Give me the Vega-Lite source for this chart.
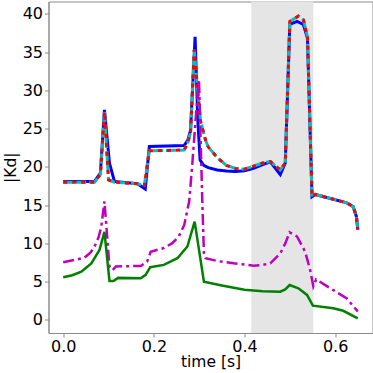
{
  "$schema": "https://vega.github.io/schema/vega-lite/v6.json",
  "width": 324,
  "height": 331.5,
  "autosize": {"type": "none"},
  "padding": {"left": 48.5, "top": 1.5, "right": 0.5, "bottom": 40},
  "background": "white",
  "config": {
    "view": {"stroke": "#8c8c8c", "strokeWidth": 1},
    "font": "DejaVu Sans",
    "axis": {
      "grid": false,
      "domainColor": "#8c8c8c",
      "tickColor": "#8c8c8c",
      "tickSize": 4,
      "labelFont": "DejaVu Sans",
      "labelFontSize": 16,
      "labelColor": "black",
      "titleFont": "DejaVu Sans",
      "titleFontSize": 15.5,
      "titleFontWeight": "normal",
      "titleColor": "black"
    }
  },
  "data": {
    "values": [
      {"s": "blue", "t": 0, "y": 18.1},
      {"s": "blue", "t": 0.069, "y": 18.1},
      {"s": "blue", "t": 0.082, "y": 19.2},
      {"s": "blue", "t": 0.091, "y": 27.45},
      {"s": "blue", "t": 0.102, "y": 20.5},
      {"s": "blue", "t": 0.113, "y": 18.1},
      {"s": "blue", "t": 0.164, "y": 17.8},
      {"s": "blue", "t": 0.181, "y": 17.1},
      {"s": "blue", "t": 0.19, "y": 22.65},
      {"s": "blue", "t": 0.267, "y": 22.8},
      {"s": "blue", "t": 0.275, "y": 23.5},
      {"s": "blue", "t": 0.281, "y": 24.8},
      {"s": "blue", "t": 0.291, "y": 37.0},
      {"s": "blue", "t": 0.297, "y": 26.1},
      {"s": "blue", "t": 0.302, "y": 20.9},
      {"s": "blue", "t": 0.31, "y": 20.2},
      {"s": "blue", "t": 0.32, "y": 19.9},
      {"s": "blue", "t": 0.34, "y": 19.6},
      {"s": "blue", "t": 0.36, "y": 19.45},
      {"s": "blue", "t": 0.38, "y": 19.4},
      {"s": "blue", "t": 0.4, "y": 19.5},
      {"s": "blue", "t": 0.42, "y": 19.8},
      {"s": "blue", "t": 0.44, "y": 20.3},
      {"s": "blue", "t": 0.457, "y": 20.65},
      {"s": "blue", "t": 0.479, "y": 19.0},
      {"s": "blue", "t": 0.49, "y": 20.5},
      {"s": "blue", "t": 0.5, "y": 38.6},
      {"s": "blue", "t": 0.516, "y": 39.0},
      {"s": "blue", "t": 0.53, "y": 38.6},
      {"s": "blue", "t": 0.539, "y": 36.8},
      {"s": "blue", "t": 0.549, "y": 16.1},
      {"s": "blue", "t": 0.556, "y": 16.4},
      {"s": "blue", "t": 0.626, "y": 15.3},
      {"s": "blue", "t": 0.64, "y": 14.8},
      {"s": "blue", "t": 0.647, "y": 13.5},
      {"s": "blue", "t": 0.65, "y": 11.8},

      {"s": "red", "t": 0, "y": 18.0},
      {"s": "red", "t": 0.069, "y": 18.0},
      {"s": "red", "t": 0.082, "y": 19.0},
      {"s": "red", "t": 0.091, "y": 27.2},
      {"s": "red", "t": 0.1, "y": 18.3},
      {"s": "red", "t": 0.113, "y": 18.0},
      {"s": "red", "t": 0.164, "y": 17.8},
      {"s": "red", "t": 0.179, "y": 17.6},
      {"s": "red", "t": 0.19, "y": 22.1},
      {"s": "red", "t": 0.267, "y": 22.2},
      {"s": "red", "t": 0.275, "y": 23.2},
      {"s": "red", "t": 0.281, "y": 24.5},
      {"s": "red", "t": 0.289, "y": 35.3},
      {"s": "red", "t": 0.296, "y": 30.5},
      {"s": "red", "t": 0.303, "y": 26.0},
      {"s": "red", "t": 0.314, "y": 23.5},
      {"s": "red", "t": 0.32, "y": 22.6},
      {"s": "red", "t": 0.34, "y": 21.2},
      {"s": "red", "t": 0.36, "y": 20.2},
      {"s": "red", "t": 0.38, "y": 19.8},
      {"s": "red", "t": 0.4, "y": 19.7},
      {"s": "red", "t": 0.42, "y": 20.1},
      {"s": "red", "t": 0.44, "y": 20.5},
      {"s": "red", "t": 0.457, "y": 20.7},
      {"s": "red", "t": 0.479, "y": 19.6},
      {"s": "red", "t": 0.49, "y": 20.5},
      {"s": "red", "t": 0.5, "y": 39.0},
      {"s": "red", "t": 0.519, "y": 39.7},
      {"s": "red", "t": 0.53, "y": 39.2},
      {"s": "red", "t": 0.539, "y": 37.0},
      {"s": "red", "t": 0.549, "y": 16.1},
      {"s": "red", "t": 0.556, "y": 16.4},
      {"s": "red", "t": 0.626, "y": 15.3},
      {"s": "red", "t": 0.64, "y": 14.8},
      {"s": "red", "t": 0.647, "y": 13.5},
      {"s": "red", "t": 0.65, "y": 11.8},

      {"s": "mag", "t": 0, "y": 7.54},
      {"s": "mag", "t": 0.03, "y": 7.9},
      {"s": "mag", "t": 0.047, "y": 8.15},
      {"s": "mag", "t": 0.06, "y": 8.8},
      {"s": "mag", "t": 0.069, "y": 9.6},
      {"s": "mag", "t": 0.078, "y": 10.8},
      {"s": "mag", "t": 0.084, "y": 12.2},
      {"s": "mag", "t": 0.091, "y": 15.5},
      {"s": "mag", "t": 0.102, "y": 7.0},
      {"s": "mag", "t": 0.109, "y": 6.5},
      {"s": "mag", "t": 0.116, "y": 7.0},
      {"s": "mag", "t": 0.171, "y": 7.06},
      {"s": "mag", "t": 0.185, "y": 7.6},
      {"s": "mag", "t": 0.193, "y": 8.9},
      {"s": "mag", "t": 0.222, "y": 9.4},
      {"s": "mag", "t": 0.24, "y": 10.0},
      {"s": "mag", "t": 0.255, "y": 10.9},
      {"s": "mag", "t": 0.267, "y": 12.4},
      {"s": "mag", "t": 0.278, "y": 15.5},
      {"s": "mag", "t": 0.285, "y": 20.5},
      {"s": "mag", "t": 0.292, "y": 26.1},
      {"s": "mag", "t": 0.2996, "y": 31.4},
      {"s": "mag", "t": 0.303, "y": 24.0},
      {"s": "mag", "t": 0.307, "y": 15.3},
      {"s": "mag", "t": 0.3105, "y": 8.7},
      {"s": "mag", "t": 0.314, "y": 8.07},
      {"s": "mag", "t": 0.34, "y": 7.7},
      {"s": "mag", "t": 0.376, "y": 7.4},
      {"s": "mag", "t": 0.42, "y": 7.1},
      {"s": "mag", "t": 0.44, "y": 7.2},
      {"s": "mag", "t": 0.457, "y": 7.4},
      {"s": "mag", "t": 0.479, "y": 8.7},
      {"s": "mag", "t": 0.49, "y": 10.0},
      {"s": "mag", "t": 0.4996, "y": 11.45},
      {"s": "mag", "t": 0.516, "y": 10.9},
      {"s": "mag", "t": 0.534, "y": 8.9},
      {"s": "mag", "t": 0.545, "y": 6.5},
      {"s": "mag", "t": 0.552, "y": 4.4},
      {"s": "mag", "t": 0.558, "y": 5.3},
      {"s": "mag", "t": 0.596, "y": 3.9},
      {"s": "mag", "t": 0.626, "y": 2.8},
      {"s": "mag", "t": 0.65, "y": 1.1},

      {"s": "green", "t": 0, "y": 5.58},
      {"s": "green", "t": 0.02, "y": 5.85},
      {"s": "green", "t": 0.04, "y": 6.3},
      {"s": "green", "t": 0.062, "y": 7.4},
      {"s": "green", "t": 0.08, "y": 9.15},
      {"s": "green", "t": 0.091, "y": 11.5},
      {"s": "green", "t": 0.102, "y": 5.1},
      {"s": "green", "t": 0.111, "y": 5.1},
      {"s": "green", "t": 0.121, "y": 5.5},
      {"s": "green", "t": 0.171, "y": 5.45},
      {"s": "green", "t": 0.182, "y": 5.9},
      {"s": "green", "t": 0.192, "y": 6.9},
      {"s": "green", "t": 0.222, "y": 7.2},
      {"s": "green", "t": 0.252, "y": 8.07},
      {"s": "green", "t": 0.274, "y": 9.6},
      {"s": "green", "t": 0.29, "y": 12.85},
      {"s": "green", "t": 0.3105, "y": 5.0},
      {"s": "green", "t": 0.35, "y": 4.5},
      {"s": "green", "t": 0.4, "y": 3.95},
      {"s": "green", "t": 0.44, "y": 3.75},
      {"s": "green", "t": 0.479, "y": 3.7},
      {"s": "green", "t": 0.49, "y": 4.0},
      {"s": "green", "t": 0.4996, "y": 4.57},
      {"s": "green", "t": 0.519, "y": 4.14},
      {"s": "green", "t": 0.538, "y": 3.27},
      {"s": "green", "t": 0.551, "y": 1.87},
      {"s": "green", "t": 0.596, "y": 1.53},
      {"s": "green", "t": 0.618, "y": 1.2},
      {"s": "green", "t": 0.65, "y": 0.22}
    ]
  },
  "encoding": {
    "x": {
      "field": "t", "type": "quantitative",
      "scale": {"domain": [-0.0325, 0.6825], "nice": false, "zero": false},
      "axis": {"title": "time [s]", "values": [0, 0.2, 0.4, 0.6], "format": ".1f", "labelPadding": 1, "titlePadding": 0}
    },
    "y": {
      "field": "y", "type": "quantitative",
      "scale": {"domain": [-1.7, 41.6], "nice": false, "zero": false},
      "axis": {"title": "|Kd|", "values": [0, 5, 10, 15, 20, 25, 30, 35, 40], "labelPadding": 2, "titlePadding": 4}
    }
  },
  "layer": [
    {
      "data": {"values": [{"a": 0.415, "b": 0.552}]},
      "mark": {"type": "rect", "color": "#e5e5e5"},
      "encoding": {
        "x": {"field": "a", "type": "quantitative"},
        "x2": {"field": "b"},
        "y": null
      }
    },
    {
      "transform": [{"filter": "datum.s === 'blue'"}],
      "mark": {"type": "line", "color": "#0000ff", "strokeWidth": 3}
    },
    {
      "transform": [{"filter": "datum.s === 'red'"}],
      "mark": {"type": "line", "color": "#00bfbf", "strokeWidth": 3, "strokeDash": [10, 3]}
    },
    {
      "transform": [{"filter": "datum.s === 'red'"}],
      "mark": {"type": "line", "color": "#ff0000", "strokeWidth": 3, "strokeDash": [4, 5]}
    },
    {
      "transform": [{"filter": "datum.s === 'mag'"}],
      "mark": {"type": "line", "color": "#bf00bf", "strokeWidth": 2.5, "strokeDash": [11, 4, 3, 4]}
    },
    {
      "transform": [{"filter": "datum.s === 'green'"}],
      "mark": {"type": "line", "color": "#008000", "strokeWidth": 2.5}
    }
  ]
}
